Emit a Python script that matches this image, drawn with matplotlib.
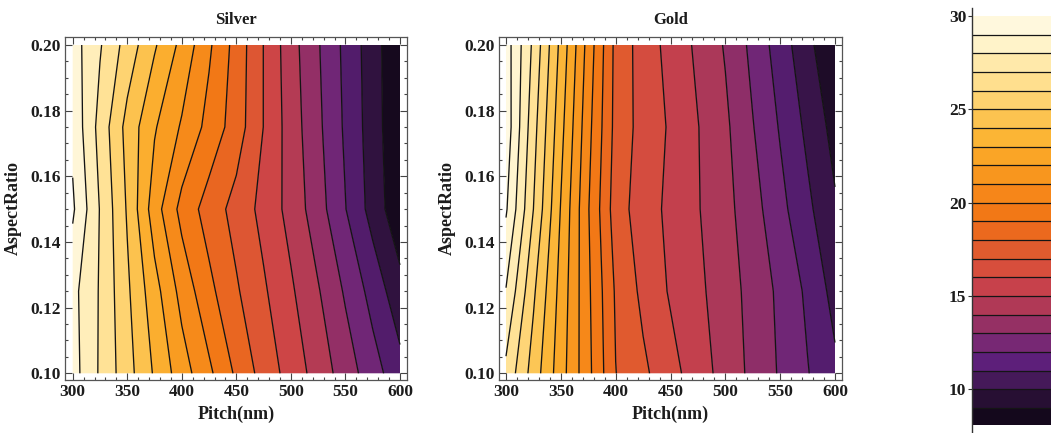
import numpy as np
import matplotlib
matplotlib.use("Agg")
import matplotlib.pyplot as plt
from matplotlib.colors import LinearSegmentedColormap, Normalize
from matplotlib.ticker import MultipleLocator, FormatStrFormatter

# ---------------- data ----------------
pitch = [300, 325, 350, 375, 400, 425, 450, 475, 500, 525, 550, 575, 600]
aspect = [0.10, 0.125, 0.15, 0.175, 0.20]

silver_r010 = [29.40, 27.88, 26.39, 24.88, 23.47, 22.20, 20.83, 19.60, 18.60, 17.58, 16.52, 15.43, 14.35]
silver_r0125 = [29.30, 27.91, 26.18, 24.38, 22.66, 21.27, 20.12, 19.14, 18.15, 17.08, 15.87, 14.63, 13.35]
silver_r015 = [30.15, 27.95, 25.90, 23.46, 21.68, 20.56, 19.64, 18.69, 17.66, 16.43, 15.03, 13.61, 12.26]
silver_r0175 = [29.76, 27.66, 25.67, 24.10, 22.88, 21.67, 20.51, 18.98, 17.53, 16.21, 14.84, 13.50, 12.11]
silver_r020 = [29.45, 28.09, 26.60, 25.12, 23.72, 22.16, 20.62, 18.98, 17.40, 16.08, 14.75, 13.45, 12.08]

gold_r010 = [26.75, 24.56, 22.43, 20.27, 18.02, 17.20, 16.35, 15.48, 14.61, 13.75, 12.89, 12.05, 11.21]
gold_r0125 = [27.95, 25.17, 22.64, 20.18, 17.88, 16.76, 15.89, 15.22, 14.47, 13.66, 12.78, 11.81, 10.65]
gold_r015 = [29.12, 26.00, 22.94, 20.06, 17.50, 16.47, 15.77, 15.06, 14.32, 13.39, 12.30, 11.22, 10.13]
gold_r0175 = [29.60, 26.38, 23.33, 20.31, 17.69, 16.61, 15.88, 15.03, 14.19, 13.05, 11.91, 10.77, 9.65]
gold_r020 = [29.50, 26.79, 23.72, 20.61, 17.73, 16.55, 15.67, 14.80, 13.91, 12.73, 11.51, 10.29, 9.05]

silver_lines = list(range(13, 31))
gold_lines = list(range(10, 30))
cbar_bounds = [8.1] + list(range(9, 31))
cbar_ticks = [10, 15, 20, 25, 30]
x_ticks = [300, 350, 400, 450, 500, 550, 600]
y_ticks = [0.10, 0.12, 0.14, 0.16, 0.18, 0.20]

# ---------------- style ----------------
W, H = 1051, 433
fig = plt.figure(figsize=(W / 100, H / 100), dpi=100)
FONT = "Liberation Serif"
TXT = "#1c1c1c"

cols = [(12, 5, 18), (40, 15, 52), (70, 25, 90), (95, 32, 125), (120, 40, 115),
        (150, 48, 100), (178, 58, 85), (200, 65, 75), (215, 78, 60), (225, 92, 45),
        (235, 105, 30), (242, 120, 22), (246, 135, 25), (248, 150, 30), (250, 165, 38),
        (251, 180, 52), (252, 195, 80), (254, 210, 110), (255, 222, 140), (255, 233, 170),
        (255, 243, 200), (255, 250, 230)]
pos = np.linspace(0.02, 0.977, len(cols))
pos[0], pos[-1] = 0.0, 1.0
cmap = LinearSegmentedColormap.from_list(
    "sunset", [(p, tuple(c / 255 for c in rgb)) for p, rgb in zip(pos, cols)])


def px_axes(l, t, r, b):
    return fig.add_axes([l / W, 1 - b / H, (r - l) / W, (b - t) / H])


def contour_panel(ax, Z, line_levels, title, xlim, ylim, floor_shift=0.0):
    X, Y = np.meshgrid(pitch, aspect)
    zmin, zmax = Z.min(), Z.max()
    inner = [v for v in line_levels if zmin < v < zmax]
    levels = [zmin] + inner + [zmax]
    norm = Normalize(vmin=zmin - floor_shift, vmax=zmax)
    ax.contourf(X, Y, Z, levels=levels, cmap=cmap, norm=norm, antialiased=True)
    ax.contour(X, Y, Z, levels=inner, colors="#141414", linewidths=0.95)
    ax.set_xlim(*xlim)
    ax.set_ylim(*ylim)
    ax.set_facecolor("white")
    ax.set_xticks(x_ticks)
    ax.set_yticks(y_ticks)
    ax.xaxis.set_minor_locator(MultipleLocator(10))
    ax.yaxis.set_minor_locator(MultipleLocator(0.005))
    ax.yaxis.set_major_formatter(FormatStrFormatter("%.2f"))
    ax.tick_params(which="both", direction="in", top=True, right=True,
                   colors="#444444", labelcolor=TXT, width=0.8)
    ax.tick_params(which="major", length=5, pad=3)
    ax.tick_params(which="minor", length=2.5)
    for lab in ax.get_xticklabels() + ax.get_yticklabels():
        lab.set_fontfamily(FONT)
        lab.set_fontweight("bold")
        lab.set_fontsize(12.5)
    for sp in ax.spines.values():
        sp.set_color("#555555")
        sp.set_linewidth(0.9)
    ax.set_title(title, fontfamily=FONT, fontweight="bold", fontsize=12,
                 color=TXT, pad=9)
    ax.set_xlabel("Pitch(nm)", fontfamily=FONT, fontweight="bold", fontsize=13,
                  color=TXT, labelpad=4)
    ax.set_ylabel("AspectRatio", fontfamily=FONT, fontweight="bold", fontsize=13,
                  color=TXT, labelpad=6)


silver = np.array([silver_r010, silver_r0125, silver_r015, silver_r0175, silver_r020])
gold = np.array([gold_r010, gold_r0125, gold_r015, gold_r0175, gold_r020])

ylim = (0.10 - 6.7 / 3283, 0.20 + 8.3 / 3283)
ax1 = px_axes(65, 36.7, 407.3, 380)
contour_panel(ax1, silver, silver_lines, "Silver",
              (300 - 7.7 / 1.091, 600 + 7.3 / 1.091), ylim)
ax2 = px_axes(499.3, 36.7, 841.7, 380)
contour_panel(ax2, gold, gold_lines, "Gold",
              (300 - 6.7 / 1.0967, 600 + 6.7 / 1.0967), ylim, floor_shift=0.5)

# ---------------- colour legend ----------------
cax = px_axes(972, 8, 1090, 433)
cnorm = Normalize(vmin=cbar_bounds[0], vmax=cbar_bounds[-1])
b = np.array(cbar_bounds, dtype=float)
mids = (b[:-1] + b[1:]) / 2
cax.pcolormesh([0, 1], b, mids[:, None], cmap=cmap, norm=cnorm, shading="flat")
for v in cbar_bounds[1:-1]:
    cax.axhline(v, color="#151515", lw=0.9)
upp = 18.67
cax.set_ylim(10 - (433 - 389.3) / upp, 30 + (16 - 8) / upp)
cax.set_xlim(0, 1)
for s in ["top", "right", "bottom"]:
    cax.spines[s].set_visible(False)
cax.spines["left"].set_color("#333333")
cax.spines["left"].set_linewidth(1.0)
cax.set_xticks([])
cax.set_yticks(cbar_ticks)
cax.tick_params(axis="y", direction="out", length=3, width=0.8, pad=1,
                colors="#333333", labelcolor=TXT)
for lab in cax.get_yticklabels():
    lab.set_fontfamily(FONT)
    lab.set_fontweight("bold")
    lab.set_fontsize(12.5)

fig.savefig("out.png", dpi=100)
